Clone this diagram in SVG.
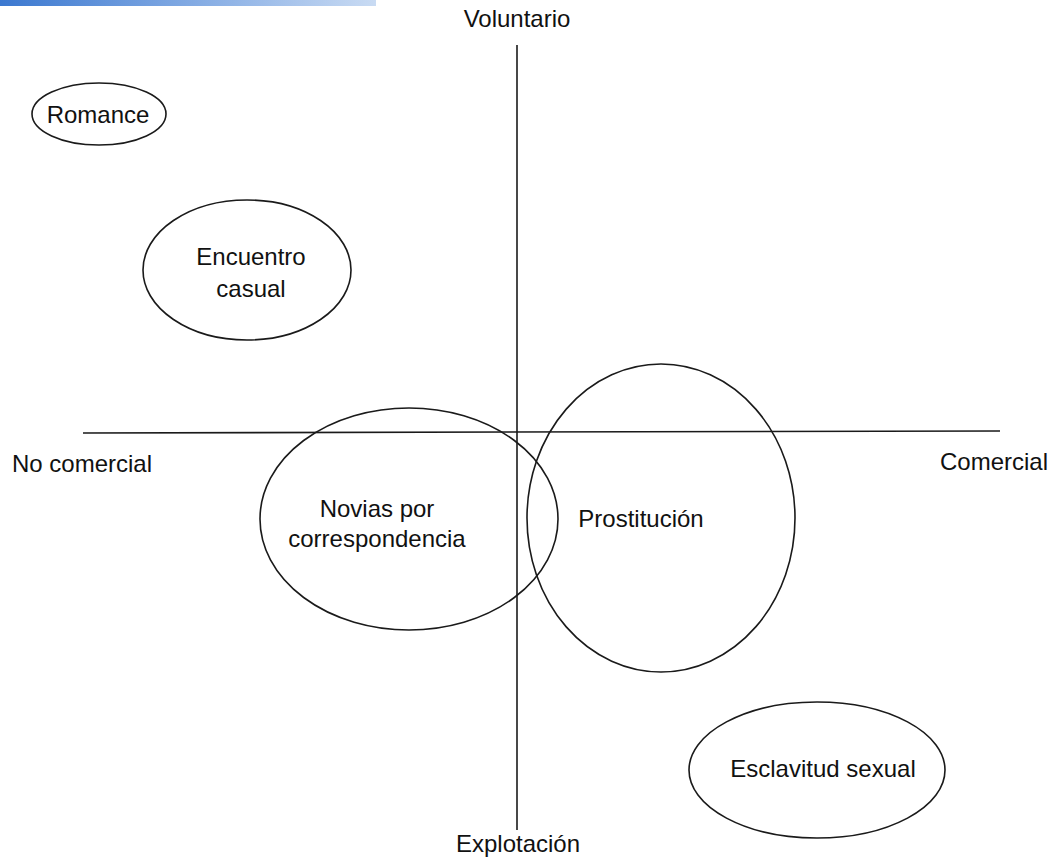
<svg xmlns="http://www.w3.org/2000/svg" width="1053" height="860" viewBox="0 0 1053 860">
<style>
.n{fill:none;stroke:#1a1a1a;stroke-width:1.6}
.ax{stroke:#1a1a1a;stroke-width:1.6}
text{font-family:"Liberation Sans",Arial,sans-serif;font-size:24px;fill:#111}
.c{text-anchor:middle}
</style>
<defs>
<linearGradient id="bar" x1="0" y1="0" x2="1" y2="0">
<stop offset="0" stop-color="#3b78d0"/>
<stop offset="0.6" stop-color="#8fb3e6"/>
<stop offset="1" stop-color="#c9dbf3"/>
</linearGradient>
</defs>
<rect width="1053" height="860" fill="#fff"/>
<rect x="0" y="0" width="376" height="6" fill="url(#bar)"/>
<g id="connectors">
<line class="ax" x1="517" y1="45" x2="517" y2="830"/>
<line class="ax" x1="83" y1="433" x2="1000" y2="431"/>
</g>
<g id="axis-labels">
<text class="c" x="517" y="27">Voluntario</text>
<text class="c" x="518" y="852">Explotación</text>
<text x="12" y="472">No comercial</text>
<text x="940" y="470">Comercial</text>
</g>
<g id="romance"><ellipse class="n" cx="99" cy="114" rx="67" ry="31"/><text class="c" x="98" y="123">Romance</text></g>
<g id="encuentro"><ellipse class="n" cx="247" cy="270" rx="104" ry="70"/><text class="c" x="251" y="265">Encuentro</text><text class="c" x="251" y="297">casual</text></g>
<g id="novias"><ellipse class="n" cx="409" cy="519" rx="149" ry="111"/><text class="c" x="377" y="517">Novias por</text><text class="c" x="377" y="547">correspondencia</text></g>
<g id="prostitucion"><ellipse class="n" cx="661" cy="518" rx="134" ry="154"/><text class="c" x="641" y="527">Prostitución</text></g>
<g id="esclavitud"><ellipse class="n" cx="817" cy="770" rx="128" ry="68"/><text class="c" x="823" y="777">Esclavitud sexual</text></g>
</svg>
